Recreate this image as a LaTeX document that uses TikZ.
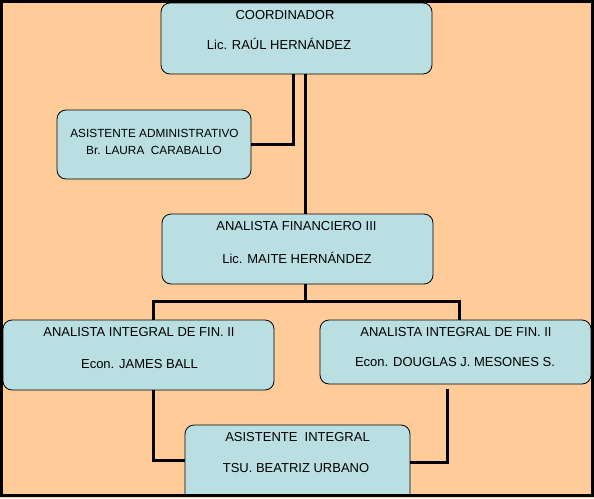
\documentclass[tikz,border=0pt]{standalone}
\usepackage{fontspec}
\setmainfont{Liberation Sans}
\definecolor{bgorange}{RGB}{255,204,153}
\definecolor{boxblue}{RGB}{185,223,227}
\tikzset{
  box/.style={draw=black, line width=0.8pt, fill=boxblue, rounded corners=9pt, inner sep=0pt},
  conn/.style={draw=black, line width=3pt},
  txt/.style={anchor=base, inner sep=0pt, font=\fontsize{13}{15}\selectfont},
  smalltxt/.style={anchor=base, inner sep=0pt, font=\fontsize{11.8}{13}\selectfont},
}
\begin{document}
\begin{tikzpicture}[x=1pt,y=-1pt]
\useasboundingbox (0,0) rectangle (594,498);
\fill[bgorange] (0,0) rectangle (594,498);
\begin{scope}
\clip (0,0) rectangle (594,495);
% boxes
\node[box, minimum width=271pt, minimum height=71pt] (coord) at (296.5,38.5) {};
\node[box, minimum width=194pt, minimum height=69pt] (asis) at (154,144.5) {};
\node[box, minimum width=271pt, minimum height=70pt] (af) at (297.5,249) {};
\node[box, minimum width=271pt, minimum height=70pt] (ail) at (138.5,355) {};
\node[box, minimum width=271pt, minimum height=64pt] (air) at (455.5,352) {};
\node[box, minimum width=225pt, minimum height=80pt] (ai) at (297.5,465) {};
% helper coordinates
\coordinate (xa) at (293,0);
\coordinate (xb) at (305,0);
\coordinate (xl) at (153.5,0);
\coordinate (xr) at (459,0);
\coordinate (bus) at (0,301);
\coordinate (ylow) at (0,460);
\coordinate (ylow2) at (0,462);
\coordinate (rstart) at (447.5,389);
% connectors
\draw[conn] (coord.south -| xa) |- (asis.east);
\draw[conn] (coord.south -| xb) -- (af.north -| xb);
\draw[conn] (af.south -| xb) -- (bus -| xb);
\draw[conn] (ail.north -| xl) |- (bus -| xr) -- (air.north -| xr);
\draw[conn] (ail.south -| xl) |- (ai.west |- ylow);
\draw[conn] (rstart) |- (ai.east |- ylow2);
% texts
\node[txt] (t1) at (285,19.7) {COORDINADOR};
\node[txt] (t2) at (279,49.7) {Lic. RAÚL HERNÁNDEZ};
\node[smalltxt] (t3) at (154.5,137.3) {ASISTENTE ADMINISTRATIVO};
\node[smalltxt] (t4) at (154,154.3) {Br. LAURA~ CARABALLO};
\node[txt] (t5) at (296.5,230.7) {ANALISTA FINANCIERO III};
\node[txt] (t6) at (297,263.7) {Lic. MAITE HERNÁNDEZ};
\node[txt] (t7) at (139,336.7) {ANALISTA INTEGRAL DE FIN. II};
\node[txt] (t8) at (139.5,368.7) {Econ. JAMES BALL};
\node[txt] (t9) at (456,336.7) {ANALISTA INTEGRAL DE FIN. II};
\node[txt] (t10) at (455,366.7) {Econ. DOUGLAS J. MESONES S.};
\node[txt] (t11) at (297.5,441.7) {ASISTENTE~ INTEGRAL};
\node[txt] (t12) at (296,472.7) {TSU. BEATRIZ URBANO};
\end{scope}
% outer frame
\draw[black, line width=3pt] (1.5,1.5) rectangle (592.5,495.5);
\end{tikzpicture}
\end{document}
